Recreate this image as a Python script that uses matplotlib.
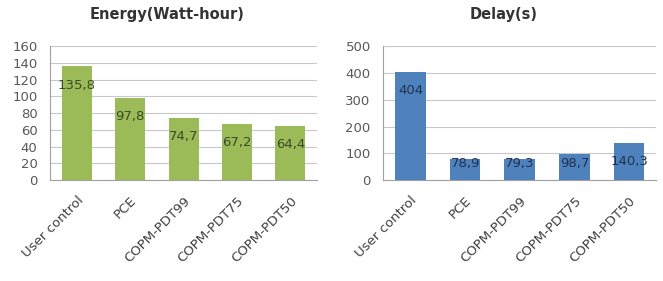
import matplotlib
matplotlib.use("Agg")
import matplotlib.pyplot as plt
import numpy as np

categories = ["User control", "PCE", "COPM-PDT99", "COPM-PDT75", "COPM-PDT50"]
energy = [135.8, 97.8, 74.7, 67.2, 64.4]
delay = [404, 78.9, 79.3, 98.7, 140.3]
energy_labels = ["135,8", "97,8", "74,7", "67,2", "64,4"]
delay_labels = ["404", "78,9", "79,3", "98,7", "140,3"]
energy_ticks = [0, 20, 40, 60, 80, 100, 120, 140, 160]
delay_ticks = [0, 100, 200, 300, 400, 500]

plt.rcParams['font.family'] = ['DejaVu Sans']

fig = plt.figure(figsize=(6.63, 2.81), dpi=100)
ax1 = fig.add_axes([0.0754, 0.359, 0.403, 0.477])
ax2 = fig.add_axes([0.578, 0.359, 0.412, 0.477])

def draw(ax, vals, labels, ticks, color, tcolor):
    x = np.arange(len(categories))
    ax.bar(x, vals, width=0.56, color=color, zorder=2)
    ymax = ticks[-1]
    ax.set_ylim(0, ymax)
    ax.set_xlim(-0.5, len(categories) - 0.5)
    ax.set_yticks(ticks)
    ax.set_yticklabels([str(t) for t in ticks], fontsize=9.5, color='#595959')
    ax.set_xticks(x)
    ax.set_xticklabels(categories, rotation=45, ha='right', rotation_mode='anchor',
                       fontsize=9.5, color='#404040')
    ax.tick_params(axis='y', length=0, pad=9)
    ax.tick_params(axis='x', length=0, pad=10)
    ax.grid(axis='y', color='#c8c8c8', linewidth=0.8, zorder=0)
    for s in ['top', 'right']:
        ax.spines[s].set_visible(False)
    ax.spines['left'].set_color('#a0a0a0')
    ax.spines['bottom'].set_color('#a0a0a0')
    for xi, v, lab in zip(x, vals, labels):
        y = max(v - 0.14 * ymax, 0.125 * ymax)
        ax.text(xi, y, lab, ha='center', va='center', fontsize=9.5, color=tcolor, zorder=3)

draw(ax1, energy, energy_labels, energy_ticks, '#9bbb59', '#3d4a28')
draw(ax2, delay, delay_labels, delay_ticks, '#4f81bd', '#1f3350')

fig.text(0.252, 0.947, "Energy(Watt-hour)", ha='center', va='center', fontsize=10.5,
         fontweight='bold', color='#333333')
fig.text(0.759, 0.947, "Delay(s)", ha='center', va='center', fontsize=10.5,
         fontweight='bold', color='#333333')

fig.savefig("out.png", dpi=100)
